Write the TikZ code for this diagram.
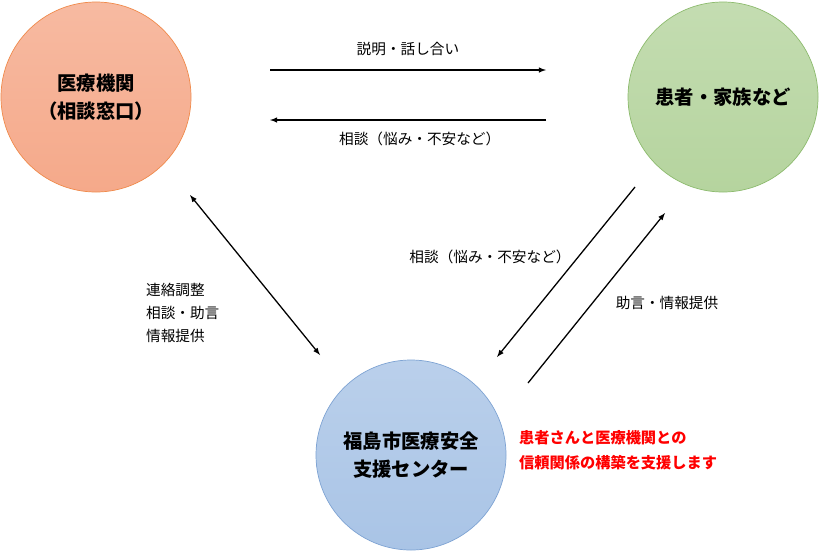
\documentclass[tikz,border=0pt]{standalone}
\usepackage{fontspec}
\newfontfamily\jp{Noto Sans CJK JP}
\usetikzlibrary{positioning,arrows,calc}
\tikzset{
    x=0.03cm,
    y=-0.03cm,
    party/.style = {
        draw,
        shape=circle,
        minimum size=5.7cm,
        line width=0.6pt,
        align=center,
        font=\jp\bfseries\fontsize{16.5}{24}\selectfont
    },
    note/.style = {
        font=\jp\fontsize{12.5}{20}\selectfont,
        align=left
    },
    flow/.style = {
        line width=1.1pt,
        -latex
    },
}
\definecolor{orangefill}{HTML}{F5A98A}
\definecolor{orangeline}{HTML}{F08A4B}
\definecolor{greenfill}{HTML}{B5D49E}
\definecolor{greenline}{HTML}{8DBB6E}
\definecolor{bluefill}{HTML}{A9C4E6}
\definecolor{blueline}{HTML}{7EA3D3}
\begin{document}
\begin{tikzpicture}
            \useasboundingbox (0,0) rectangle (821,551);
            \fill[white] (0,0) rectangle (821,551);
            \node[party, top color=orangefill!80, bottom color=orangefill, draw=orangeline] (clinic) at (96,97) {医療機関\\（相談窓口）};
            \node[party, top color=greenfill!80, bottom color=greenfill, draw=greenline] (patient) at (723,97) {患者・家族など};
            \node[party, top color=bluefill!80, bottom color=bluefill, draw=blueline] (center) at (411,455) {福島市医療安全\\支援センター};

            \coordinate (talkA) at (270,70);
            \coordinate (talkB) at (546,70);
            \coordinate (askA) at (546,120);
            \coordinate (askB) at (270,120);
            \coordinate (linkA) at (190,195);
            \coordinate (linkB) at (320,355);
            \coordinate (upA) at (635,187);
            \coordinate (upB) at (497,357);
            \coordinate (downA) at (528,383);
            \coordinate (downB) at (665,213);

            \path[draw, flow] (talkA) -- (talkB) node [midway, above=8pt, note] {説明・話し合い};
            \path[draw, flow] (askA) -- (askB) node [midway, below=6pt, note, xshift=10pt] {相談（悩み・不安など）};
            \path[draw, flow, latex-latex] (linkA) -- (linkB);
            \path[draw, flow] (upA) -- (upB);
            \path[draw, flow] (downA) -- (downB);

            \node[note, anchor=west] (linklabel) at (142,313) {連絡調整\\相談・助言\\情報提供};
            \node[note] (uplabel) at (490,257) {相談（悩み・不安など）};
            \node[note] (downlabel) at (667,303) {助言・情報提供};
            \node[anchor=west, red, align=left, font=\jp\bfseries\fontsize{13}{21}\selectfont] (motto) at (515,450) {患者さんと医療機関との\\信頼関係の構築を支援します};
\end{tikzpicture}
\end{document}
